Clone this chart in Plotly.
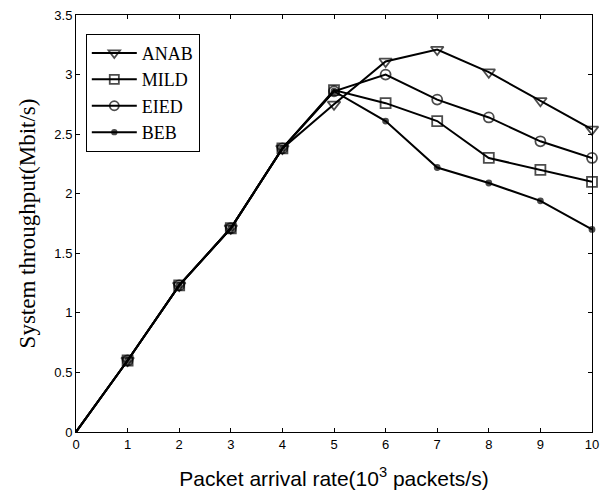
import plotly.graph_objects as go

x = [0, 1, 2, 3, 4, 5, 6, 7, 8, 9, 10]
anab = [0, 0.60, 1.23, 1.71, 2.38, 2.75, 3.11, 3.21, 3.02, 2.78, 2.54]
mild = [0, 0.60, 1.23, 1.71, 2.38, 2.87, 2.76, 2.61, 2.30, 2.20, 2.10]
eied = [0, 0.60, 1.23, 1.71, 2.38, 2.86, 3.00, 2.79, 2.64, 2.44, 2.30]
beb = [0, 0.60, 1.23, 1.71, 2.38, 2.86, 2.61, 2.22, 2.09, 1.94, 1.70]

series = [
    ("ANAB", anab, "triangle-down-open", 11),
    ("MILD", mild, "square-open", 10),
    ("EIED", eied, "circle-open", 10),
    ("BEB", beb, "circle", 5),
]

fig = go.Figure()
for name, ys, sym, sz in series:
    # no marker drawn at the origin point (as in the reference)
    sizes = [0] + [sz] * (len(x) - 1)
    fig.add_trace(go.Scatter(
        x=x, y=ys, name=name, mode="lines+markers", cliponaxis=False,
        line=dict(color="black", width=2),
        marker=dict(symbol=sym, size=sizes, color="black",
                    line=dict(color="black", width=1.8)),
    ))

axis_common = dict(
    showgrid=False, zeroline=False, showline=True, linecolor="black",
    linewidth=1, mirror="ticks", ticks="inside", ticklen=4,
    tickcolor="black", tickfont=dict(family="Liberation Sans, Arial", size=13, color="black"),
)

fig.update_layout(
    width=607, height=496,
    margin=dict(l=76, r=8, t=12, b=64),
    paper_bgcolor="white", plot_bgcolor="white",
    showlegend=True,
    legend=dict(
        x=0.019, y=0.955, xanchor="left", yanchor="top",
        bordercolor="black", borderwidth=1, bgcolor="white",
        font=dict(family="Liberation Serif, Times New Roman", size=18, color="black"),
        tracegroupgap=0, itemwidth=45,
    ),
    xaxis=dict(range=[0, 10], tickvals=list(range(0, 11)),
               title=dict(text="Packet arrival rate(10<sup>3</sup> packets/s)",
                          font=dict(family="Liberation Sans, Arial", size=21, color="black"),
                          standoff=20),
               **axis_common),
    yaxis=dict(range=[0, 3.5], tickvals=[0, 0.5, 1, 1.5, 2, 2.5, 3, 3.5],
               ticktext=["0", "0.5", "1", "1.5", "2", "2.5", "3", "3.5"],
               title=dict(text="System throughput(Mbit/s)",
                          font=dict(family="Liberation Serif, Times New Roman", size=23, color="black"),
                          standoff=12),
               **axis_common),
)

fig.write_html("out.html")
